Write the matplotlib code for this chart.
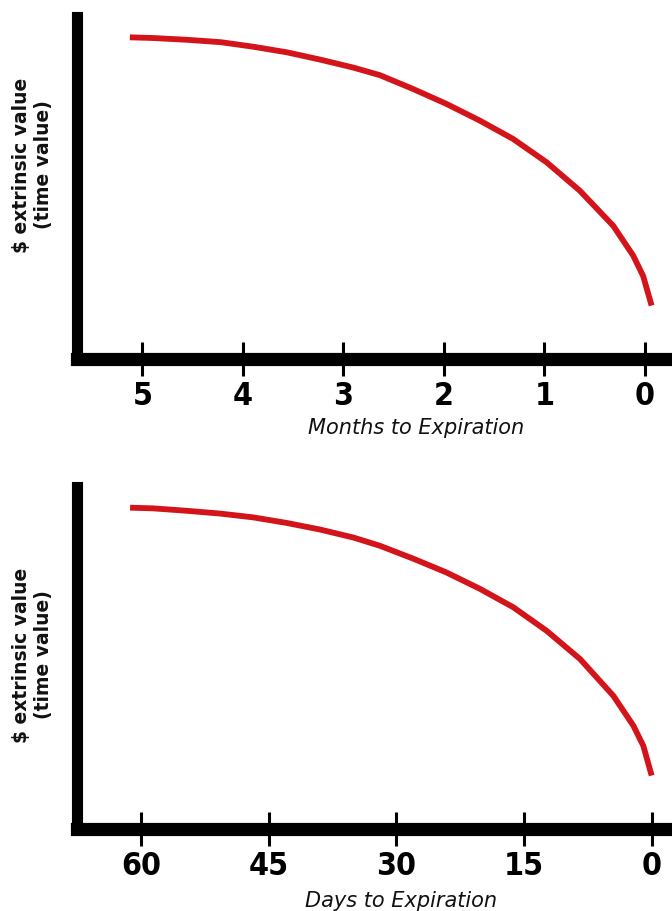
import matplotlib

matplotlib.use("Agg")
import matplotlib.pyplot as plt

# top panel: months to expiration vs extrinsic value (% of axis height)
months = [5.124, 4.893, 4.560, 4.219, 3.898, 3.565, 3.234, 2.903, 2.637,
          2.305, 1.973, 1.642, 1.310, 0.978, 0.647, 0.315, 0.116, 0.017, -0.067]
months_value = [92.7, 92.5, 92.0, 91.3, 90.0, 88.4, 86.3, 84.0, 81.8,
                77.8, 73.5, 68.7, 63.4, 56.7, 48.5, 38.4, 29.8, 23.9, 15.4]
month_ticks = [5, 4, 3, 2, 1, 0]

# bottom panel: days to expiration
days = [61.27, 58.53, 54.61, 50.70, 46.80, 42.88, 38.97, 35.06, 31.92,
        28.02, 24.10, 20.19, 16.28, 12.36, 8.45, 4.54, 2.19, 1.02, 0.04]
days_value = [92.6, 92.4, 91.7, 90.9, 89.8, 88.2, 86.3, 84.0, 81.6,
              77.9, 73.9, 69.2, 63.9, 57.1, 49.0, 38.4, 29.8, 24.0, 15.4]
day_ticks = [60, 45, 30, 15, 0]

RED = "#d4141b"
W, H = 672, 912


def draw_panel(ax, xs, ys, xlim, ticks):
    ax.plot(xs, ys, color=RED, lw=4.2, solid_capstyle="butt",
            solid_joinstyle="round", clip_on=False)
    ax.set_xlim(*xlim)
    ax.set_ylim(0, 100)
    ax.set_xticks(ticks)
    ax.set_xticklabels([str(t) for t in ticks])
    ax.set_yticks([])
    for side in ("top", "right"):
        ax.spines[side].set_visible(False)
    ax.spines["left"].set_linewidth(8.0)
    ax.spines["bottom"].set_linewidth(9.5)
    for side in ("left", "bottom"):
        ax.spines[side].set_color("black")
        ax.spines[side].set_capstyle("projecting")
    ax.tick_params(axis="x", direction="inout", length=24.5, width=2.2,
                   color="black", pad=3)
    for lab in ax.get_xticklabels():
        lab.set_family("DejaVu Sans")
        lab.set_fontstretch("condensed")
        lab.set_fontweight("bold")
        lab.set_fontsize(23)


fig = plt.figure(figsize=(W / 100, H / 100), dpi=100)

# values are scaled so that 100 sits at the top of the y spine
panels = [
    (months, months_value, (5.65, -0.27), month_ticks, 360, 18,
     "Months to Expiration", 416, 418, 165),
    (days, days_value, (67.5, -2.35), day_ticks, 830, 488,
     "Days to Expiration", 401, 891, 655),
]

for xs, ys, xlim, ticks, y_bot, y_top, xlabel, lx, ly, yl_center in panels:
    ax = fig.add_axes([77 / W, 1 - y_bot / H, 1 - 77 / W, (y_bot - y_top) / H])
    ax.patch.set_alpha(0)
    ax.set_ylim(0, 100)
    # keep curve heights tied to the 347 px measured span
    scale = (y_bot - y_top) / 347
    draw_panel(ax, xs, [v / scale for v in ys], xlim, ticks)
    fig.text(lx / W, 1 - ly / H, xlabel, ha="center", va="top",
             fontsize=15, style="italic", color="#111111")
    fig.text(22 / W, 1 - yl_center / H, "$ extrinsic value", rotation=90,
             ha="center", va="center", fontsize=13.5, fontweight="bold",
             color="#111111")
    fig.text(43 / W, 1 - yl_center / H, "(time value)", rotation=90,
             ha="center", va="center", fontsize=13.5, fontweight="bold",
             color="#111111")

fig.savefig("out.png", dpi=100)
